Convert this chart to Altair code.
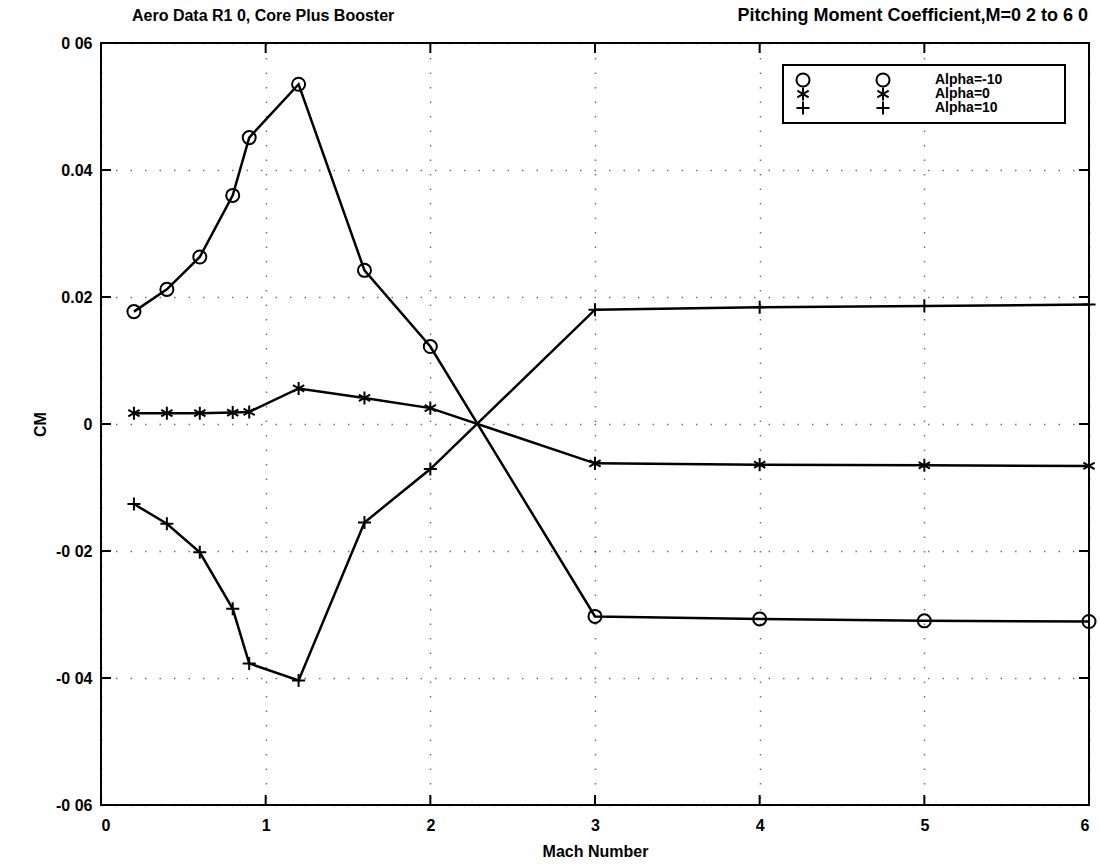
import altair as alt
import pandas as pd

# Mach numbers at which the coefficient was tabulated
mach = [0.2, 0.4, 0.6, 0.8, 0.9, 1.2, 1.6, 2.0, 3.0, 4.0, 5.0, 6.0]

# Pitching moment coefficient CM for each angle of attack
cm_alpha_m10 = [0.0177, 0.0212, 0.0263, 0.0360, 0.0451, 0.0535, 0.0242, 0.0122,
                -0.0303, -0.0307, -0.0310, -0.0311]
cm_alpha_0 = [0.0017, 0.0017, 0.0017, 0.0018, 0.0019, 0.0056, 0.0041, 0.0025,
              -0.0062, -0.0064, -0.0065, -0.0066]
cm_alpha_p10 = [-0.0126, -0.0157, -0.0202, -0.0291, -0.0377, -0.0404, -0.0155, -0.0071,
                0.0180, 0.0184, 0.0186, 0.0188]

series_names = ["Alpha=-10", "Alpha=0", "Alpha=10"]

# Axis ticks and their printed labels
x_ticks = [0, 1, 2, 3, 4, 5, 6]
y_ticks = [-0.06, -0.04, -0.02, 0.0, 0.02, 0.04, 0.06]
y_tick_text = ["-0 06", "-0 04", "-0 02", "0", "0.02", "0.04", "0 06"]

title_left = "Aero Data R1 0, Core Plus Booster"
title_right = "Pitching Moment Coefficient,M=0 2 to 6 0"

FONT = "Liberation Sans"
W, H = 988, 762

# Marker glyphs (stroked paths in the unit square)
ASTERISK = "M0,-1L0,1M-0.866,-0.5L0.866,0.5M-0.866,0.5L0.866,-0.5"
PLUS = "M-1,0L1,0M0,-1L0,1"
shape_scale = alt.Scale(domain=series_names, range=["circle", ASTERISK, PLUS])
size_scale = alt.Scale(domain=series_names, range=[170, 170, 260])

rows = []
for name, vals in zip(series_names, [cm_alpha_m10, cm_alpha_0, cm_alpha_p10]):
    for m, v in zip(mach, vals):
        rows.append({"series": name, "mach": m, "cm": v})
df = pd.DataFrame(rows)

# y labels looked up from the tick value
label_expr = " : ".join(
    f"abs(datum.value - ({v})) < 1e-6 ? '{t}'" for v, t in zip(y_ticks, y_tick_text)
) + " : ''"

x_scale = alt.Scale(domain=[0, 6], nice=False, zero=False)
y_scale = alt.Scale(domain=[-0.06, 0.06], nice=False, zero=False)

grid_style = dict(grid=True, gridDash=[1.5, 13], gridColor="black",
                  gridOpacity=0.55, gridWidth=1.5)
text_style = dict(ticks=False, domain=False, labelFont=FONT, labelFontSize=16,
                  labelFontWeight="bold", labelColor="black", titleFont=FONT,
                  titleFontSize=16, titleFontWeight="bold", titleColor="black",
                  titleBaseline="middle")

x_enc = alt.X(
    "mach:Q", scale=x_scale,
    axis=alt.Axis(values=x_ticks, format="d", title="Mach Number", labelPadding=12,
                  titleX=494, titleY=46, **text_style, **grid_style),
)
y_enc = alt.Y(
    "cm:Q", scale=y_scale,
    axis=alt.Axis(values=y_ticks, labelExpr=label_expr, title="CM", labelPadding=9,
                  titleX=-61, titleY=381, titleAngle=270, **text_style, **grid_style),
)

base = alt.Chart(df)
lines = base.mark_line(color="black", strokeWidth=2.5).encode(
    x=x_enc, y=y_enc, detail="series:N", order="mach:Q"
)
points = base.mark_point(filled=False, color="black", strokeWidth=2, opacity=1).encode(
    x=alt.X("mach:Q", scale=x_scale),
    y=alt.Y("cm:Q", scale=y_scale),
    shape=alt.Shape("series:N", scale=shape_scale, legend=None),
    size=alt.Size("series:N", scale=size_scale, legend=None),
)

# Inward tick marks on all four sides of the frame
xt = alt.Chart(pd.DataFrame({"t": x_ticks}))
yt = alt.Chart(pd.DataFrame({"t": y_ticks}))
TL = 10
ticks = [
    xt.mark_rule(color="black", strokeWidth=2).encode(
        x=alt.X("t:Q", scale=x_scale), y=alt.value(H), y2=alt.value(H - TL)),
    xt.mark_rule(color="black", strokeWidth=2).encode(
        x=alt.X("t:Q", scale=x_scale), y=alt.value(0), y2=alt.value(TL)),
    yt.mark_rule(color="black", strokeWidth=2).encode(
        y=alt.Y("t:Q", scale=y_scale), x=alt.value(0), x2=alt.value(TL)),
    yt.mark_rule(color="black", strokeWidth=2).encode(
        y=alt.Y("t:Q", scale=y_scale), x=alt.value(W), x2=alt.value(W - TL)),
]

# Titles above the frame
titles = alt.Chart(pd.DataFrame({"left": [title_left], "right": [title_right]}))
t_left = titles.mark_text(font=FONT, fontSize=16, fontWeight="bold", align="left",
                          baseline="middle", color="black").encode(
    text="left:N", x=alt.value(31), y=alt.value(-27))
t_right = titles.mark_text(font=FONT, fontSize=18, fontWeight="bold", align="right",
                           baseline="middle", color="black").encode(
    text="right:N", x=alt.value(987), y=alt.value(-27))

# Legend box in the upper right corner
LX0, LX1, LY0, LY1 = 682, 964, 22, 80
leg_df = pd.DataFrame({"series": series_names, "row": [0, 1, 2]})
leg = alt.Chart(leg_df).transform_calculate(ly="37 + datum.row * 14")
leg_box = alt.Chart(pd.DataFrame({"a": [0]})).mark_rect(
    fill="white", stroke="black", strokeWidth=2).encode(
    x=alt.value(LX0), x2=alt.value(LX1), y=alt.value(LY0), y2=alt.value(LY1))
leg_pts = [
    leg.mark_point(filled=False, color="black", strokeWidth=2, opacity=1).encode(
        x=alt.value(px), y=alt.Y("ly:Q", scale=None),
        shape=alt.Shape("series:N", scale=shape_scale, legend=None),
        size=alt.Size("series:N", scale=alt.Scale(domain=series_names,
                                                  range=[130, 130, 180]), legend=None))
    for px in (702, 782)
]
leg_txt = leg.mark_text(font=FONT, fontSize=14, fontWeight="bold", align="left",
                        baseline="middle", color="black").encode(
    x=alt.value(834), y=alt.Y("ly:Q", scale=None), text="series:N")

chart = alt.layer(
    lines, points, *ticks, t_left, t_right, leg_box, *leg_pts, leg_txt
).properties(
    width=W, height=H,
    padding={"left": 101, "top": 43, "right": 11, "bottom": 59},
    autosize=alt.AutoSizeParams(type="none"),
    background="white",
).configure_view(
    stroke="black", strokeWidth=2
)

chart.save("out.html", embed_options={"renderer": "svg", "actions": False})
